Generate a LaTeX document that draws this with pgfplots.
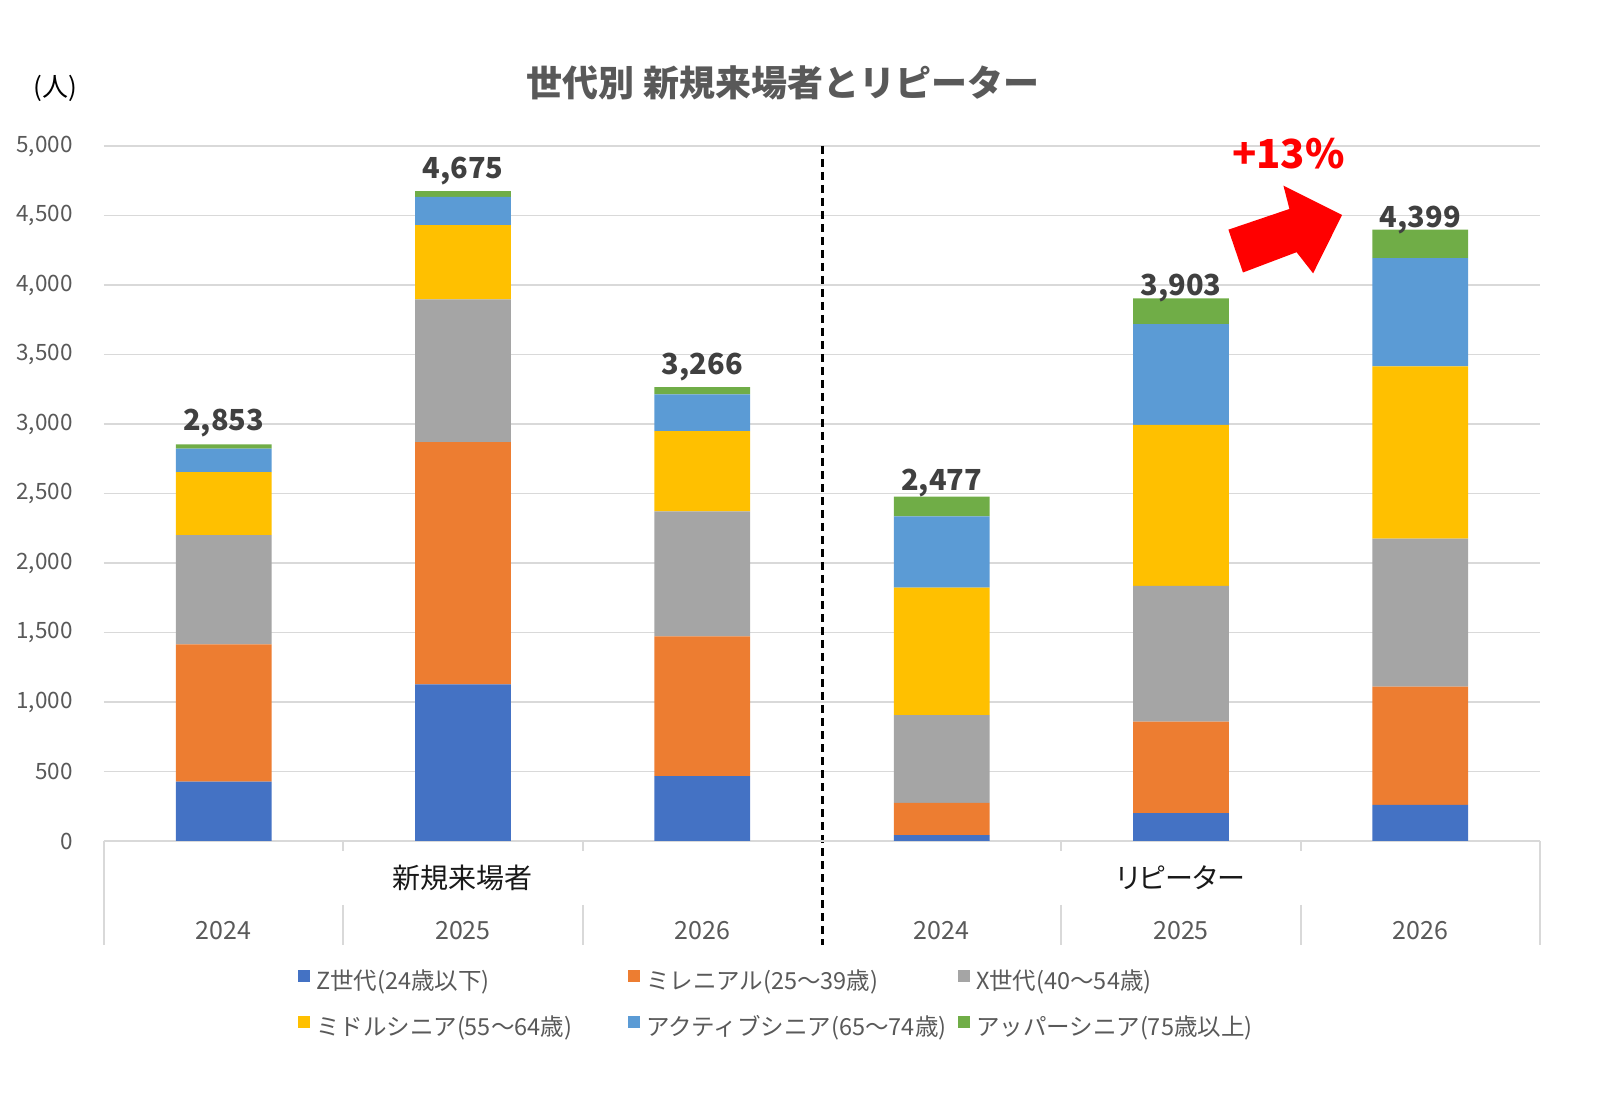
\documentclass[border=0pt]{standalone}
\usepackage{fontspec}
\setmainfont{Noto Sans CJK JP}
\usepackage{pgfplots}
\pgfplotsset{compat=1.18}
\definecolor{cZ}{HTML}{4472C4}
\definecolor{cM}{HTML}{ED7D31}
\definecolor{cX}{HTML}{A5A5A5}
\definecolor{cMid}{HTML}{FFC000}
\definecolor{cAct}{HTML}{5B9BD5}
\definecolor{cUp}{HTML}{70AD47}
\definecolor{cTick}{HTML}{595959}
\definecolor{cLbl}{HTML}{404040}
\definecolor{cGrid}{HTML}{D9D9D9}
\definecolor{cRed}{HTML}{FF0000}
\begin{document}
\begin{tikzpicture}
\useasboundingbox (0,0) rectangle (800bp,555.5bp);
\begin{axis}[
  at={(52bp,135bp)}, anchor=south west,
  scale only axis, width=718bp, height=347.5bp,
  ybar stacked, bar width=0.4,
  xmin=-0.5, xmax=5.5, ymin=0, ymax=5000,
  enlargelimits=false,
  ytick={0,500,...,5000},
  xtick={0,1,2,3,4,5},
  xticklabels={2024,2025,2026,2024,2025,2026},
  axis line style={draw=none},
  major tick length=0pt,
  ymajorgrids, xmajorgrids=false,
  grid style={color=cGrid, line width=0.9bp},
  /pgf/number format/assume math mode=true,
  /pgf/number format/1000 sep={,},
  yticklabel style={font=\fontsize{11.25bp}{13bp}\selectfont, text=cTick, anchor=east, inner sep=0pt, xshift=-15.5bp},
  xticklabel style={font=\fontsize{12.5bp}{14bp}\selectfont, text=cTick, anchor=center, inner sep=0pt, yshift=-45bp},
  clip=false,
  legend columns=3,
  legend cell align=left,
  legend image code/.code={\fill[#1] (0bp,0.5bp) rectangle (6bp,6.5bp);},
  legend style={at={(axis description cs:0.1351,-0.2367)}, anchor=west,
    draw=none, fill=none, inner sep=0pt, outer sep=0pt,
    font=\fontsize{11.75bp}{14bp}\selectfont, text=cTick,
    row sep=10.5bp,
    nodes={inner sep=0pt, text height=9bp, text depth=3bp, text=cTick},
    /tikz/every odd column/.append style={column sep=3bp}},
]
\addplot[fill=cZ, draw=none] coordinates {(0,427) (1,1126) (2,466) (3,43) (4,200) (5,259)};
\addlegendentry{\makebox[156bp][l]{Z世代(24歳以下)}}
\addplot[fill=cM, draw=none] coordinates {(0,987) (1,1744) (2,1006) (3,232) (4,658) (5,851)};
\addlegendentry{\makebox[156bp][l]{ミレニアル(25～39歳)}}
\addplot[fill=cX, draw=none] coordinates {(0,786) (1,1026) (2,900) (3,631) (4,977) (5,1065)};
\addlegendentry{\makebox[156bp][l]{X世代(40～54歳)}}
\addplot[fill=cMid, draw=none] coordinates {(0,454) (1,534) (2,576) (3,916) (4,1158) (5,1239)};
\addlegendentry{\makebox[156bp][l]{ミドルシニア(55～64歳)}}
\addplot[fill=cAct, draw=none] coordinates {(0,168) (1,204) (2,265) (3,514) (4,725) (5,780)};
\addlegendentry{\makebox[156bp][l]{アクティブシニア(65～74歳)}}
\addplot[fill=cUp, draw=none, point meta=explicit,
  nodes near coords={\pgfmathprintnumber[1000 sep={,}]{\pgfplotspointmeta}},
  every node near coord/.append style={font=\fontsize{14.5bp}{16bp}\selectfont\bfseries, text=cLbl, anchor=base, inner sep=0pt, yshift=8bp}]
  coordinates {(0,31) [2853] (1,41) [4675] (2,53) [3266] (3,141) [2477] (4,185) [3903] (5,205) [4399]};
\addlegendentry{\makebox[156bp][l]{アッパーシニア(75歳以上)}}
% category frame below the axis
\draw[cGrid, line width=0.9bp] (axis cs:-0.5,0) -- (axis cs:5.5,0);
\draw[cGrid, line width=0.9bp] (axis cs:-0.5,0) -- ([yshift=-52bp]axis cs:-0.5,0);
\draw[cGrid, line width=0.9bp] (axis cs:5.5,0) -- ([yshift=-52bp]axis cs:5.5,0);
\pgfplotsinvokeforeach{0.5,1.5,3.5,4.5}{
  \draw[cGrid, line width=0.9bp] (axis cs:#1,0) -- ([yshift=-5bp]axis cs:#1,0);
  \draw[cGrid, line width=0.9bp] ([yshift=-32bp]axis cs:#1,0) -- ([yshift=-52bp]axis cs:#1,0);
}
\node[font=\fontsize{14bp}{16bp}\selectfont, text=black!90] at ([yshift=-18.5bp]axis cs:1,0) {新規来場者};
\node[font=\fontsize{14bp}{16bp}\selectfont\addfontfeature{RawFeature=+palt}, text=black!90] at ([yshift=-18.5bp]axis cs:4,0) {リピーター};
\draw[black, line width=1.5bp, dash pattern=on 4bp off 2.5bp] (axis cs:2.5,5000) -- ([yshift=-52bp]axis cs:2.5,0);
% growth arrow
\fill[cRed] (axis cs:4.198,4398) -- (axis cs:4.453,4547) -- (axis cs:4.428,4715) -- (axis cs:4.673,4504) -- (axis cs:4.552,4084) -- (axis cs:4.483,4236) -- (axis cs:4.259,4090) -- cycle;
\node[font=\fontsize{20bp}{22bp}\selectfont\bfseries, text=cRed] at (axis cs:4.449,4948) {+13\%};
\end{axis}
\node[font=\fontsize{18bp}{20bp}\selectfont\bfseries, text=cTick] at (391.5bp,514bp) {世代別 新規来場者とリピーター};
\node[font=\fontsize{13bp}{15bp}\selectfont, text=black] at (27.5bp,511.5bp) {(人)};
\end{tikzpicture}
\end{document}
